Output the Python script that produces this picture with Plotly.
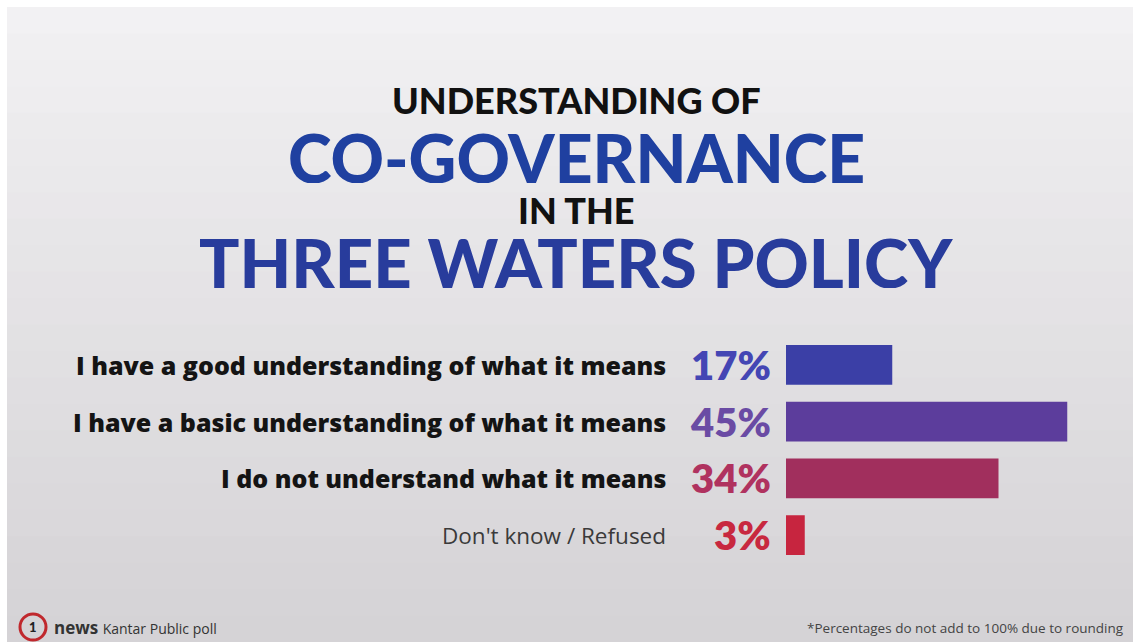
import plotly.graph_objects as go

# Poll data
answers = [
    "I have a good understanding of what it means",
    "I have a basic understanding of what it means",
    "I do not understand what it means",
    "Don't know / Refused",
]
shares = [17, 45, 34, 3]
bar_colors = ["#3b3fa6", "#5c3d9c", "#a12f5d", "#c7253f"]
pct_colors = ["#4446b4", "#6a4ba4", "#b0325f", "#c8283f"]

W, H = 1133, 642


def px(x):
    return x / W


def py(y):
    return 1 - y / H


fig = go.Figure()

fig.add_trace(go.Bar(
    x=shares,
    y=answers,
    orientation="h",
    width=0.7,
    marker=dict(color=bar_colors, line=dict(width=0)),
    hoverinfo="skip",
))

# background: white frame + soft vertical grey gradient
shapes = []
top_c = (242, 241, 243)
bot_c = (213, 211, 214)
n = 24
y0 = 7
for i in range(n):
    t = i / (n - 1)
    c = tuple(int(top_c[k] + (bot_c[k] - top_c[k]) * t) for k in range(3))
    ya = y0 + (H - y0) * i / n
    yb = y0 + (H - y0) * (i + 1) / n + 1
    shapes.append(dict(
        type="rect", xref="paper", yref="paper", layer="below",
        x0=px(7), x1=1, y0=py(yb), y1=py(ya),
        fillcolor="rgb(%d,%d,%d)" % c, line=dict(width=0),
    ))

# 1news logo circle
shapes.append(dict(
    type="circle", xref="paper", yref="paper",
    x0=px(20), x1=px(46), y0=py(640), y1=py(614),
    line=dict(color="#c0282d", width=3), fillcolor="rgba(0,0,0,0)",
))

annotations = []
titles = [
    ("UNDERSTANDING OF", 100, 36, "#111111"),
    ("CO-GOVERNANCE", 157, 66, "#1f40a0"),
    ("IN THE", 210, 36, "#111111"),
    ("THREE WATERS POLICY", 262, 67, "#283c9c"),
]
for text, yc, size, col in titles:
    annotations.append(dict(
        text=text, xref="paper", yref="paper", x=px(576), y=py(yc),
        xanchor="center", yanchor="middle", showarrow=False,
        height=int(size * 0.8),
        font=dict(family="Lato", size=size, color=col, weight=900),
    ))

for i, (a, s) in enumerate(zip(answers, shares)):
    last = i == len(answers) - 1
    annotations.append(dict(
        text=a, xref="paper", yref="y", x=px(668), y=a,
        xanchor="right", yanchor="middle", showarrow=False,
        font=dict(family="Open Sans", size=22.5 if last else 25,
                  color="#3a3a3a" if last else "#141414",
                  weight=400 if last else 800),
    ))
    annotations.append(dict(
        text="%d%%" % s, xref="paper", yref="y", x=px(773), y=a,
        xanchor="right", yanchor="middle", showarrow=False,
        font=dict(family="Lato", size=40, color=pct_colors[i], weight=800),
    ))

# footer
annotations.append(dict(
    text="1", xref="paper", yref="paper", x=px(33), y=py(627),
    xanchor="center", yanchor="middle", showarrow=False,
    font=dict(family="Lato", size=13, color="#222222", weight=900),
))
annotations.append(dict(
    text="<b>news</b> <span style='font-size:14px'>Kantar Public poll</span>",
    xref="paper", yref="paper", x=px(52), y=py(627),
    xanchor="left", yanchor="middle", showarrow=False,
    font=dict(family="Open Sans", size=17, color="#333333"),
))
annotations.append(dict(
    text="*Percentages do not add to 100% due to rounding",
    xref="paper", yref="paper", x=px(1126), y=py(628),
    xanchor="right", yanchor="middle", showarrow=False,
    font=dict(family="Open Sans", size=13.5, color="#444444"),
))

fig.update_layout(
    width=W, height=H,
    margin=dict(l=0, r=0, t=0, b=0),
    paper_bgcolor="white",
    plot_bgcolor="rgba(0,0,0,0)",
    showlegend=False,
    shapes=shapes,
    annotations=annotations,
    xaxis=dict(domain=[px(786), 1], range=[0, 347 / 6.25], visible=False,
               fixedrange=True),
    yaxis=dict(domain=[py(563.4), py(336.6)], categoryorder="array",
               categoryarray=answers, autorange="reversed", visible=False,
               fixedrange=True),
)

fig.write_html(
    "out.html",
    config={"displayModeBar": False},
    post_script="document.body.style.margin='0';document.body.style.overflow='hidden';",
)
